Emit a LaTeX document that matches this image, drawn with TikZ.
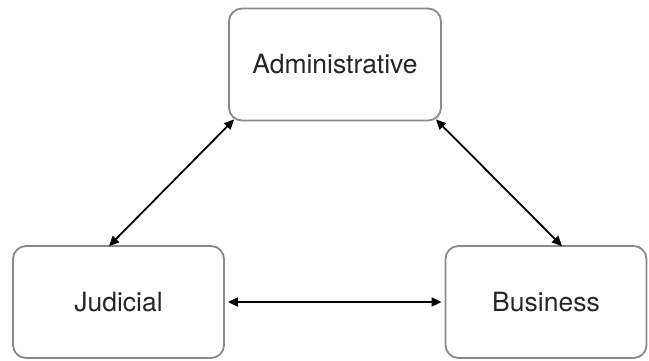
\documentclass[tikz,border=0pt]{standalone}
\usepackage{fontspec}
\setmainfont{TeX Gyre Heros}
\usetikzlibrary{arrows.meta}
\definecolor{boxgray}{HTML}{8A8A8A}
\begin{document}
\begin{tikzpicture}[x=1pt,y=-1pt,
  entity/.style={draw=boxgray,line width=1.8pt,rounded corners=13pt,fill=white,
    inner sep=0pt,font=\fontsize{26.5}{30}\selectfont,text=black!85},
  link/.style={line width=1.8pt,{Triangle[length=10pt,width=9pt]}-{Triangle[length=10pt,width=9pt]}}]
\useasboundingbox (0,0) rectangle (649,360);
\node[entity,minimum width=212pt,minimum height=112pt] (adm) at (335,64.5) {Administrative};
\node[entity,minimum width=211pt,minimum height=112pt] (jud) at (118.5,302) {Judicial};
\node[entity,minimum width=201pt,minimum height=112pt] (bus) at (546,302) {Business};
\path (adm.south west) ++(6,-2) coordinate (a1);
\path (jud.north) ++(-9.5,1) coordinate (j1);
\path (adm.south east) ++(-6,-2) coordinate (a2);
\path (bus.north) ++(16,1) coordinate (b1);
\path (jud.east) ++(3,0) coordinate (j2);
\path (bus.west) ++(-3,0) coordinate (b2);
\draw[link] (a1) -- (j1);
\draw[link] (a2) -- (b1);
\draw[link] (j2) -- (b2);
\end{tikzpicture}
\end{document}
